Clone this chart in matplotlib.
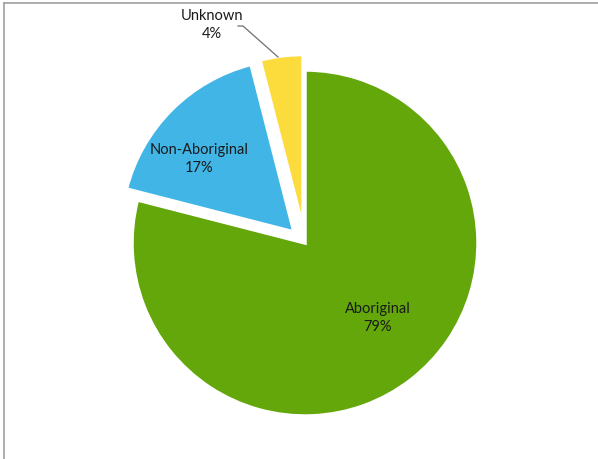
import matplotlib
matplotlib.use("Agg")
import matplotlib.pyplot as plt
from matplotlib.lines import Line2D

categories = ["Aboriginal", "Non-Aboriginal", "Unknown"]
values = [79, 17, 4]
colors = ["#63A70A", "#41B5E6", "#FCDC3D"]
explode = [0.0, 0.09, 0.09]  # fraction of radius

W, H = 598, 459
fig = plt.figure(figsize=(W / 100, H / 100), dpi=100)
ax = fig.add_axes([0, 0, 1, 1])

cx, cy, r = 305, H - 243, 173
ax.pie(values, colors=colors, explode=[e * r for e in explode], startangle=90,
       counterclock=False, center=(cx, cy), radius=r, frame=True,
       wedgeprops=dict(edgecolor="white", linewidth=2.5))
ax.set_xlim(0, W)
ax.set_ylim(0, H)
ax.set_aspect("equal")
ax.axis("off")

font = dict(family=["Lato", "DejaVu Sans"], fontsize=10.5, color="#1a1a1a",
            ha="center", va="center", linespacing=1.45)
label_pos = [(378, H - 318), (199, H - 159), (212, H - 25)]
for name, v, (x, y) in zip(categories, values, label_pos):
    ax.text(x, y, f"{name}\n{v}%", **font)

# leader line for Unknown
ax.add_line(Line2D([238, 243, 278], [H - 26, H - 26, H - 57], color="#707070", lw=0.9))

# chart frame (top and left edges visible)
fig.add_artist(Line2D([4 / W, 1], [1 - 3 / H, 1 - 3 / H], transform=fig.transFigure,
                      color="#A6A6A6", lw=1.3))
fig.add_artist(Line2D([4 / W, 4 / W], [0, 1 - 3 / H], transform=fig.transFigure,
                      color="#A6A6A6", lw=1.3))

fig.savefig("out.png", dpi=100, facecolor="white")
